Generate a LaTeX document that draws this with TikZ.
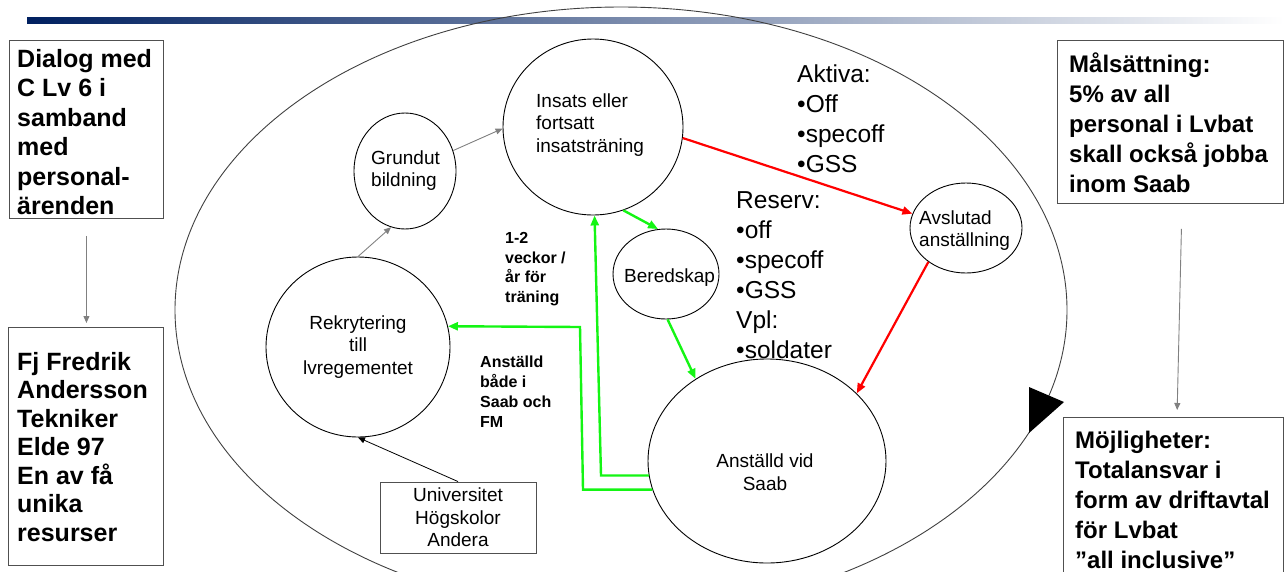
\documentclass[tikz,border=0pt]{standalone}
\usepackage{fontspec}
\setmainfont{Liberation Sans}
\usetikzlibrary{shapes.geometric,arrows.meta,calc}
\definecolor{navy}{RGB}{0,32,96}
\definecolor{lime}{RGB}{20,245,20}
\definecolor{grayline}{RGB}{128,128,128}
\definecolor{boxline}{RGB}{80,80,80}
\hyphenpenalty=10000
\exhyphenpenalty=10000
\begin{document}
\begin{tikzpicture}[x=1pt,y=-1pt,
  oval/.style={draw=black, ellipse, inner sep=0pt, line width=0.9pt},
  framebox/.style={draw=boxline, line width=0.9pt, anchor=north west, inner sep=0pt},
  boldtext/.style={inner sep=0pt, anchor=north west, align=left},
  otext/.style={inner sep=0pt, font=\fontsize{19}{22.5}\selectfont},
  listtext/.style={inner sep=0pt, anchor=north west, align=left, font=\fontsize{24.5}{30}\selectfont},
  smallbold/.style={inner sep=0pt, anchor=north west, align=left, font=\fontsize{16}{19.8}\selectfont\bfseries},
  grayarr/.style={draw=grayline, line width=0.9pt, -{Triangle[length=7pt,width=6pt]}},
  blackarr/.style={draw=black, line width=0.8pt, -{Triangle[length=7pt,width=6pt]}},
  redarr/.style={draw=red, line width=2.2pt, -{Triangle[length=10pt,width=8pt]}},
  greenarr/.style={draw=lime, line width=2.4pt, -{Triangle[length=10pt,width=8pt]}}
]
\useasboundingbox (0,0) rectangle (1284,571);
\clip (0,0) rectangle (1284,571);

% header bar
\shade[left color=navy, right color=white] (27,17) rectangle (1284,23);

% big ellipse with triangle
\draw[black!75, line width=0.9pt] (621,310) ellipse [x radius=446pt, y radius=303pt];
\fill[black] (1029,387) -- (1064,402) -- (1029,433) -- cycle;

% side boxes (frames)
\node[framebox, minimum width=154pt, minimum height=178pt] (dialog) at (9,40) {};
\node[framebox, minimum width=155pt, minimum height=238pt] (fj) at (8,327) {};
\node[framebox, minimum width=226pt, minimum height=163pt] (mal) at (1057,40) {};
\node[framebox, minimum width=220pt, minimum height=190pt] (moj) at (1063,417) {};

% side box texts
\node[boldtext, font=\fontsize{25}{29.5}\selectfont\bfseries] (dialogT) at (17,49)
  {Dialog med\\C Lv 6 i\\samband\\med\\personal-\\ärenden};
\node[boldtext, font=\fontsize{25}{28.5}\selectfont\bfseries] (fjT) at (17,352)
  {Fj Fredrik\\Andersson\\Tekniker\\Elde 97\\En av få\\unika\\resurser};
\node[boldtext, font=\fontsize{24}{30}\selectfont\bfseries] (malT) at (1069,53)
  {Målsättning:\\5\% av all\\personal i Lvbat\\skall också jobba\\inom Saab};
\node[boldtext, font=\fontsize{24}{30}\selectfont\bfseries] (mojT) at (1075,431)
  {Möjligheter:\\Totalansvar i\\form av driftavtal\\för Lvbat\\”all inclusive”};

% ellipses
\node[oval, minimum width=180pt, minimum height=176pt] (insats) at (593,127) {};
\node[oval, minimum width=102pt, minimum height=116pt] (grund) at (405,171) {};
\node[oval, minimum width=184pt, minimum height=180pt] (rekr) at (358,347) {};
\node[oval, minimum width=106pt, minimum height=90pt] (bered) at (666,274) {};
\node[oval, minimum width=112pt, minimum height=90pt] (avs) at (966,228) {};
\node[oval, minimum width=238pt, minimum height=204pt] (ans) at (767,461) {};

% ellipse texts
\node[otext, anchor=north west, align=left] (insT) at (536,93.5) {Insats eller\\fortsatt\\insatsträning};
\node[otext, anchor=north west, align=left] (grT) at (371,150.5) {Grundut\\bildning};
\node[otext, anchor=north, align=center] (rekT) at (358,315.5) {Rekrytering\\till\\lvregementet};
\node[otext, anchor=north west] (berT) at (624,269) {Beredskap};
\node[otext, anchor=north west, align=left] (avsT) at (919,210.5) {Avslutad\\anställning};
\node[otext, anchor=north, align=center] (ansT) at (765,454) {Anställd vid\\Saab};

% university box
\node[draw=boxline, line width=0.9pt, minimum width=156pt, minimum height=71pt, align=center,
  font=\fontsize{19}{22.5}\selectfont] (uni) at (458,517.5) {Universitet\\Högskolor\\Andera};

% lists
\node[listtext] (aktiva) at (797,65) {Aktiva:\\•Off\\•specoff\\•GSS};
\node[listtext] (reserv) at (736,191) {Reserv:\\•off\\•specoff\\•GSS\\Vpl:\\•soldater};

% small bold labels
\node[smallbold] (lab1) at (505,232) {1-2\\veckor /\\år för\\träning};
\node[smallbold] (lab2) at (480,356) {Anställd\\både i\\Saab och\\FM};

% helper coordinates
\coordinate (g1) at (601,476);
\coordinate (g2) at (583,489);
\coordinate (g3) at (580,327);

% connectors
\draw[grayarr, shorten <=17pt, shorten >=4pt] (dialog.south) -- (dialog.south |- fj.north);
\draw[grayarr, shorten <=25pt, shorten >=7pt] ($(mal.south west)+(125,0)$) -- ($(moj.north west)+(114,0)$);
\draw[grayarr] (grund.23) -- (insats.181);
\draw[grayarr] (rekr.90) -- (grund.256);
\draw[blackarr] (uni.north) -- (rekr.270);
\draw[redarr] (insats.-7) -- (avs.165);
\draw[redarr] (avs.222) -- (ans.37);
\draw[greenarr] (insats.290) -- (bered.100);
\draw[greenarr] (bered.272) -- (ans.131);
\draw[greenarr] (ans.187) -- (ans.187 -| g1) -- (insats.271);
\draw[greenarr] (ans.194) -- (ans.194 -| g2) -- (g3) -- (rekr.13);
\end{tikzpicture}
\end{document}
